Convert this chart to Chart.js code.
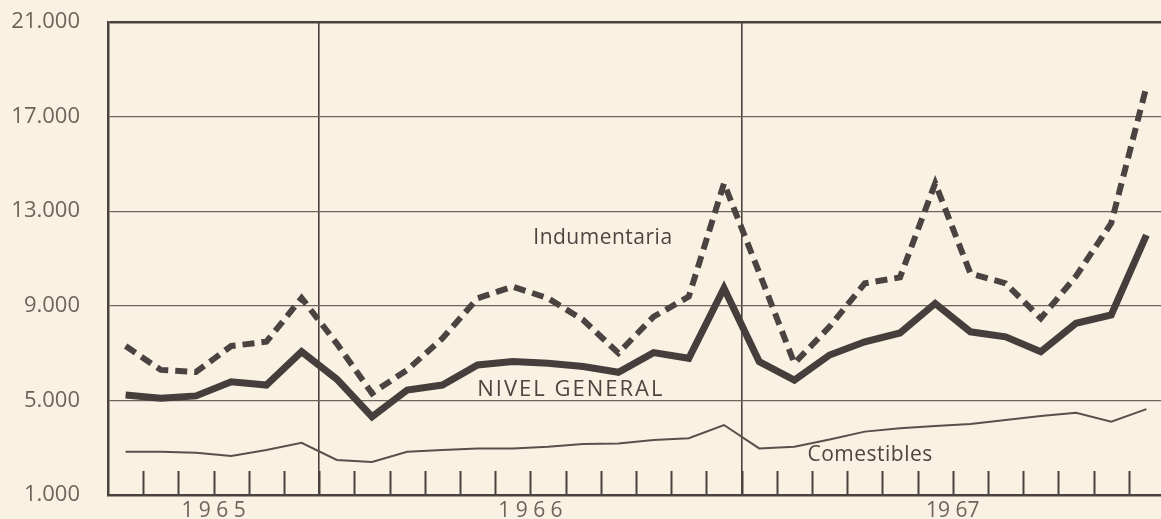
<!DOCTYPE html>
<html>
<head>
<meta charset="utf-8">
<script src="https://cdn.jsdelivr.net/npm/chart.js@4.4.0/dist/chart.umd.min.js"></script>
<style>
  html, body { margin: 0; padding: 0; overflow: hidden; background: #f9f2e3; }
  #wrap { width: 1180px; height: 519px; }
</style>
</head>
<body>
<div id="wrap"><canvas id="chart" width="1180" height="519"></canvas></div>
<script>
// julio 1965 - diciembre 1967, un punto por mes
const months = [
  'jul 65', 'ago 65', 'sep 65', 'oct 65', 'nov 65', 'dic 65',
  'ene 66', 'feb 66', 'mar 66', 'abr 66', 'may 66', 'jun 66',
  'jul 66', 'ago 66', 'sep 66', 'oct 66', 'nov 66', 'dic 66',
  'ene 67', 'feb 67', 'mar 67', 'abr 67', 'may 67', 'jun 67',
  'jul 67', 'ago 67', 'sep 67', 'oct 67', 'nov 67', 'dic 67'
];

const indumentaria = [
  7300, 6290, 6200, 7300, 7480, 9330,
  7400, 5300, 6290, 7620, 9320, 9810,
  9320, 8400, 7000, 8540, 9390, 14180,
  10400, 6570, 8120, 9950, 10200, 14180,
  10370, 9950, 8470, 10250, 12490, 18260
];

const nivelGeneral = [
  5230, 5090, 5190, 5790, 5650, 7060,
  5900, 4310, 5440, 5650, 6500, 6640,
  6570, 6430, 6190, 7020, 6780, 9740,
  6640, 5860, 6920, 7480, 7850, 9100,
  7900, 7690, 7060, 8260, 8610, 11990
];

const comestibles = [
  2830, 2830, 2790, 2650, 2900, 3210,
  2480, 2400, 2830, 2900, 2970, 2970,
  3040, 3160, 3180, 3330, 3400, 3960,
  2970, 3040, 3350, 3680, 3820, 3920,
  4000, 4170, 4340, 4480, 4100, 4630
];

const yTicks = [1000, 5000, 9000, 13000, 17000, 21000];

// años: etiqueta en el centro de cada tramo, línea en el cambio de año
const years = ['1 9 6 5', '1 9 6 6', '19 67'];
const yearCenters = [2.5, 11.5, 23.5];
const yearBreaks = [5.5, 17.5];

const noteTexts = ['Indumentaria', 'NIVEL GENERAL', 'Comestibles'];
const noteX = [13.56, 12.65, 21.15];
const noteY = [11870, 5440, 2690];

const ink = '#4a423e';
const gridInk = '#6e645d';
const labelInk = '#6f635a';
const fontName = "'Open Sans', 'Noto Sans', sans-serif";

function toPoints(values) {
  return values.map((v, i) => ({ x: i, y: v }));
}

function fmt(v) {
  return String(v).replace(/\B(?=(\d{3})+(?!\d))/g, '.');
}

const monthTicks = {
  id: 'monthTicks',
  beforeDatasetsDraw(chart) {
    const ctx = chart.ctx;
    const x = chart.scales.x;
    const bottom = chart.chartArea.bottom;
    ctx.save();
    ctx.strokeStyle = ink;
    ctx.lineWidth = 2;
    for (let i = 1; i < months.length; i++) {
      const px = Math.round(x.getPixelForValue(i - 0.5)) + 0.5;
      ctx.beginPath();
      ctx.moveTo(px, bottom - 24);
      ctx.lineTo(px, bottom);
      ctx.stroke();
    }
    ctx.restore();
  }
};

const notes = {
  id: 'notes',
  afterDatasetsDraw(chart) {
    const ctx = chart.ctx;
    const x = chart.scales.x;
    const y = chart.scales.y;
    ctx.save();
    ctx.fillStyle = '#4e4540';
    ctx.textAlign = 'center';
    ctx.textBaseline = 'middle';
    noteTexts.forEach((t, i) => {
      if (i === 1) {
        ctx.font = '22px ' + fontName;
        ctx.letterSpacing = '2px';
      } else {
        ctx.font = '21px ' + fontName;
        ctx.letterSpacing = '0.5px';
      }
      ctx.fillText(t, x.getPixelForValue(noteX[i]), y.getPixelForValue(noteY[i]));
    });
    ctx.restore();
  }
};

const ctx = document.getElementById('chart').getContext('2d');

new Chart(ctx, {
  type: 'line',
  data: {
    datasets: [
      {
        label: 'Indumentaria',
        data: toPoints(indumentaria),
        borderColor: '#4b4341',
        borderWidth: 6,
        borderDash: [12, 7],
        borderJoinStyle: 'miter',
        pointRadius: 0,
        tension: 0
      },
      {
        label: 'Nivel general',
        data: toPoints(nivelGeneral),
        borderColor: '#463e3c',
        borderWidth: 7,
        borderJoinStyle: 'miter',
        pointRadius: 0,
        tension: 0
      },
      {
        label: 'Comestibles',
        data: toPoints(comestibles),
        borderColor: '#5a504b',
        borderWidth: 2,
        pointRadius: 0,
        tension: 0
      }
    ]
  },
  options: {
    responsive: false,
    animation: false,
    layout: { padding: { top: 22, right: 16, left: 0, bottom: 0 } },
    plugins: {
      legend: { display: false },
      tooltip: { enabled: false }
    },
    scales: {
      x: {
        type: 'linear',
        min: -0.5,
        max: 29.5,
        afterBuildTicks: (s) => {
          s.ticks = yearCenters.concat(yearBreaks).sort((a, b) => a - b).map(v => ({ value: v }));
        },
        afterFit: (s) => {
          s.height = 24;
          s.paddingLeft = 0;
          s.paddingRight = 0;
        },
        ticks: {
          autoSkip: false,
          maxRotation: 0,
          padding: 3,
          color: labelInk,
          font: { family: fontName, size: 21 },
          callback: (v) => {
            const k = yearCenters.indexOf(v);
            return k >= 0 ? years[k] : '';
          }
        },
        grid: {
          drawTicks: false,
          lineWidth: 1.6,
          color: (c) => (c.tick && yearBreaks.includes(c.tick.value)) ? ink : 'rgba(0,0,0,0)'
        },
        border: { color: ink, width: 2.5 }
      },
      y: {
        min: 1000,
        max: 21000,
        afterBuildTicks: (s) => { s.ticks = yTicks.map(v => ({ value: v })); },
        afterFit: (s) => {
          s.width = 108;
          s.paddingTop = 0;
          s.paddingBottom = 0;
        },
        ticks: {
          padding: 28,
          color: labelInk,
          font: { family: fontName, size: 22 },
          callback: (v) => fmt(v)
        },
        grid: {
          drawTicks: false,
          color: (c) => (c.tick && c.tick.value === 21000) ? ink : gridInk,
          lineWidth: (c) => (c.tick && c.tick.value === 21000) ? 2.5 : 1.3
        },
        border: { color: ink, width: 2.5 }
      }
    }
  },
  plugins: [monthTicks, notes]
});
</script>
</body>
</html>
